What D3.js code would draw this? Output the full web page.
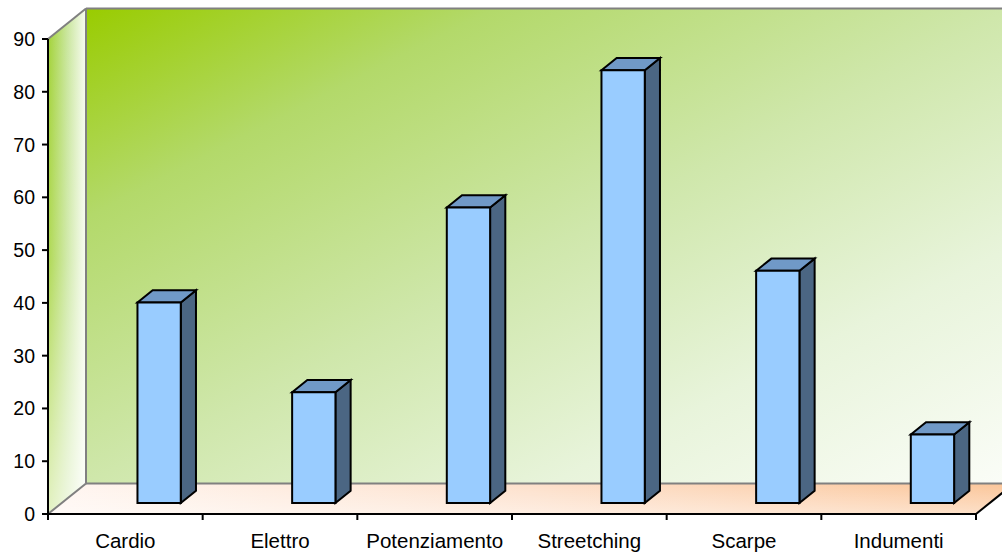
<!DOCTYPE html>
<html>
<head>
<meta charset="utf-8">
<script src="https://cdn.jsdelivr.net/npm/d3@7"></script>
<style>
  html, body { margin: 0; padding: 0; background: #fff; }
  svg { display: block; }
  text { font-family: "Liberation Sans", Arial, sans-serif; fill: #000; }
</style>
</head>
<body>
<svg id="chart" width="1002" height="557"></svg>
<script>
const categories = ["Cardio", "Elettro", "Potenziamento", "Streetching", "Scarpe", "Indumenti"];
const values = [38, 21, 56, 82, 44, 13];
const yTickValues = [0, 10, 20, 30, 40, 50, 60, 70, 80, 90];

(function () {
const svg = d3.select("#chart");

// plot frame (front plane) and 3D depth offset
const plotLeft = 48, plotRight = 976, plotBottom = 514, plotTop = 39;
const DX = 38, DY = 30.5;

const x = d3.scaleBand().domain(categories).range([plotLeft, plotRight]).padding(0);
const y = d3.scaleLinear().domain([0, 90]).range([plotBottom, plotTop]);

// project a point in (x, value, depth 0..1) to the screen
const P = (px, v, z) => [px + DX * z, y(v) - DY * z];
const poly = pts => "M" + pts.map(p => p.join(",")).join("L") + "Z";

const defs = svg.append("defs");

// back wall: corner gradient from top-left green to bottom-right white
const gWall = defs.append("linearGradient").attr("id", "wallGrad")
  .attr("x1", 0).attr("y1", 0).attr("x2", 1).attr("y2", 1);
[[0, "#99cc00"], [0.22, "#b3d96a"], [0.5, "#cfe7ab"], [0.75, "#e8f4db"], [1, "#fbfdf8"]]
  .forEach(([o, c]) => gWall.append("stop").attr("offset", o).attr("stop-color", c));

// side wall: green at the outer edge fading to white toward the back
const gSide = defs.append("linearGradient").attr("id", "sideGrad")
  .attr("x1", 0).attr("y1", 0).attr("x2", 1).attr("y2", 0);
[[0, "#a2d236"], [0.5, "#c9e69c"], [1, "#f8fcf2"]]
  .forEach(([o, c]) => gSide.append("stop").attr("offset", o).attr("stop-color", c));
const gSideFade = defs.append("linearGradient").attr("id", "sideFade")
  .attr("x1", 0).attr("y1", 0).attr("x2", 0).attr("y2", 1);
[[0, "#ffffff", 0], [0.5, "#ffffff", 0.15], [1, "#ffffff", 0.7]]
  .forEach(([o, c, a]) => gSideFade.append("stop").attr("offset", o).attr("stop-color", c).attr("stop-opacity", a));

// floor: pale on the left, peach on the right
const gFloor = defs.append("linearGradient").attr("id", "floorGrad")
  .attr("x1", 0).attr("y1", 0).attr("x2", 1).attr("y2", 0);
[[0, "#fff6f1"], [0.5, "#fde0cb"], [1, "#fbc598"]]
  .forEach(([o, c]) => gFloor.append("stop").attr("offset", o).attr("stop-color", c));
const gFloorFade = defs.append("linearGradient").attr("id", "floorFade")
  .attr("x1", 0).attr("y1", 0).attr("x2", 0).attr("y2", 1);
[[0, "#ffffff", 0], [1, "#ffffff", 0.45]]
  .forEach(([o, c, a]) => gFloorFade.append("stop").attr("offset", o).attr("stop-color", c).attr("stop-opacity", a));

const ymax = 90;
const xEnd = plotRight;

// back wall
const wallPts = [P(plotLeft, ymax, 1), P(xEnd, ymax, 1), P(xEnd, 0, 1), P(plotLeft, 0, 1)];
svg.append("path").attr("d", poly(wallPts)).attr("fill", "url(#wallGrad)");

// side wall
const sidePts = [P(plotLeft, ymax, 0), P(plotLeft, ymax, 1), P(plotLeft, 0, 1), P(plotLeft, 0, 0)];
svg.append("path").attr("d", poly(sidePts)).attr("fill", "url(#sideGrad)");
svg.append("path").attr("d", poly(sidePts)).attr("fill", "url(#sideFade)");

// floor
const floorPts = [P(plotLeft, 0, 0), P(xEnd, 0, 0), P(xEnd, 0, 1), P(plotLeft, 0, 1)];
svg.append("path").attr("d", poly(floorPts)).attr("fill", "url(#floorGrad)");
svg.append("path").attr("d", poly(floorPts)).attr("fill", "url(#floorFade)");

// wall edges
const edge = (a, b, color, w) => svg.append("line")
  .attr("x1", a[0]).attr("y1", a[1]).attr("x2", b[0]).attr("y2", b[1])
  .attr("stroke", color).attr("stroke-width", w);
edge(P(plotLeft, ymax, 1), P(xEnd, ymax, 1), "#808080", 2);
edge(P(plotLeft, ymax, 1), P(plotLeft, 0, 1), "#808080", 2);
edge(P(plotLeft, 0, 1), P(xEnd, 0, 1), "#808080", 2);
edge(P(plotLeft, ymax, 0), P(plotLeft, ymax, 1), "#808080", 2);
edge(P(plotLeft, 0, 0), P(plotLeft, 0, 1), "#808080", 2);
edge(P(xEnd, 0, 0), P(xEnd, 0, 1), "#000000", 2);

// bars
const z0 = 0.36, z1 = 0.76;
const step = x.step();
const barW = step * 0.28;
const bars = svg.append("g");
categories.forEach((c, i) => {
  const v = values[i];
  const xa = x(c) + step * 0.49, xb = xa + barW;
  const g = bars.append("g").attr("stroke", "#000").attr("stroke-width", 2).attr("stroke-linejoin", "miter");
  // right side
  g.append("path").attr("fill", "#4b6683")
    .attr("d", poly([P(xb, 0, z0), P(xb, 0, z1), P(xb, v, z1), P(xb, v, z0)]));
  // top
  g.append("path").attr("fill", "#7099c7")
    .attr("d", poly([P(xa, v, z0), P(xa, v, z1), P(xb, v, z1), P(xb, v, z0)]));
  // front
  g.append("path").attr("fill", "#99ccff")
    .attr("d", poly([P(xa, 0, z0), P(xb, 0, z0), P(xb, v, z0), P(xa, v, z0)]));
});

// value axis
const yAxis = svg.append("g");
yAxis.append("line").attr("x1", plotLeft).attr("x2", plotLeft).attr("y1", y(0)).attr("y2", y(ymax))
  .attr("stroke", "#000").attr("stroke-width", 2);
yTickValues.forEach(t => {
  yAxis.append("line").attr("x1", plotLeft - 6).attr("x2", plotLeft).attr("y1", y(t)).attr("y2", y(t))
    .attr("stroke", "#000").attr("stroke-width", 2);
  yAxis.append("text").attr("x", 35).attr("y", y(t)).attr("dy", "0.36em")
    .attr("text-anchor", "end").attr("font-size", 19.5).text(t);
});

// category axis
const xAxis = svg.append("g");
xAxis.append("line").attr("x1", plotLeft).attr("x2", plotRight).attr("y1", plotBottom).attr("y2", plotBottom)
  .attr("stroke", "#000").attr("stroke-width", 2);
const tickEdges = categories.map(c => x(c)).concat([plotRight]);
tickEdges.forEach(ex => {
  xAxis.append("line").attr("x1", ex).attr("x2", ex).attr("y1", plotBottom).attr("y2", plotBottom + 6)
    .attr("stroke", "#000").attr("stroke-width", 2);
});
categories.forEach(c => {
  xAxis.append("text").attr("x", x(c) + x.bandwidth() / 2).attr("y", 548)
    .attr("text-anchor", "middle").attr("font-size", 20.5).text(c);
});
})();
</script>
</body>
</html>
